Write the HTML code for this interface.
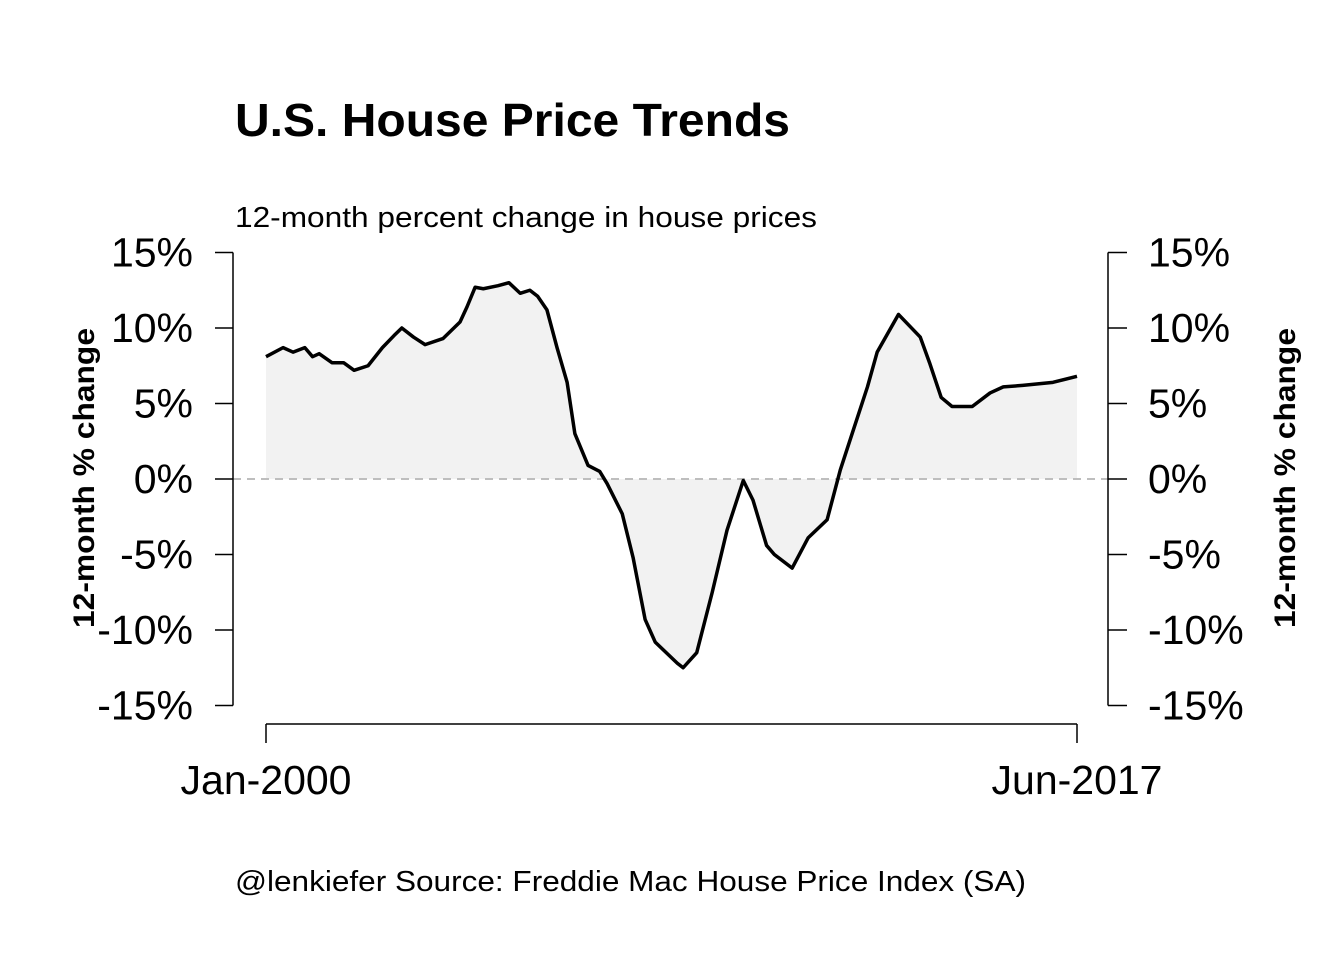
<!DOCTYPE html>
<html><head><meta charset="utf-8"><style>
body{margin:0;background:#fff;}
svg{display:block;font-family:"Liberation Sans",Arial,sans-serif;}
</style></head><body>
<svg id="chart" width="1344" height="960">
<text x="235" y="136" font-size="46" font-weight="bold" textLength="555" lengthAdjust="spacingAndGlyphs">U.S. House Price Trends</text>
<text x="235" y="227" font-size="29" textLength="582" lengthAdjust="spacingAndGlyphs">12-month percent change in house prices</text>
<text x="235" y="891" font-size="29" textLength="791" lengthAdjust="spacingAndGlyphs">@lenkiefer Source: Freddie Mac House Price Index (SA)</text>
<text transform="translate(94,478) rotate(-90)" text-anchor="middle" font-size="30" font-weight="bold" textLength="300" lengthAdjust="spacingAndGlyphs">12-month % change</text>
<text transform="translate(1295,478) rotate(-90)" text-anchor="middle" font-size="30" font-weight="bold" textLength="300" lengthAdjust="spacingAndGlyphs">12-month % change</text>
<g id="plot"></g>
</svg>
<script>
const months = [0,4.4,7,10,12,13.7,17,20,22.7,26.3,30,33,35,38,41,45.6,50,51.8,53.9,56,59.8,62.6,65.5,68,70,72.4,75,77.6,79.6,83,86,87.9,91.8,94.6,97.7,100.3,106,107.5,111,115,118.8,123,125.5,129,131,135.6,139.7,144.6,148,151.3,155,157.5,160.8,163,168.6,171,174,176.8,182,186.6,190,195,202.8,209];
const values = [8.1,8.7,8.4,8.7,8.1,8.3,7.7,7.7,7.2,7.5,8.7,9.5,10.0,9.4,8.9,9.3,10.4,11.4,12.7,12.6,12.8,13.0,12.3,12.5,12.1,11.2,8.7,6.4,3.0,0.9,0.5,-0.3,-2.3,-5.2,-9.3,-10.8,-12.2,-12.5,-11.5,-7.5,-3.4,-0.1,-1.4,-4.4,-5.0,-5.9,-3.9,-2.7,0.6,3.2,6.1,8.4,9.9,10.9,9.4,7.7,5.4,4.8,4.8,5.7,6.1,6.2,6.4,6.8];
const yTicks = [15,10,5,0,-5,-10,-15];
const xTickMonths = [0,209];
const xTickLabels = ["Jan-2000","Jun-2017"];

const NS="http://www.w3.org/2000/svg";
const g=document.getElementById('plot');
const xS=m=>266+m*(1077-266)/209;
const yS=v=>479-v*(706-253)/30;
function mk(t,a){const e=document.createElementNS(NS,t);for(const k in a)e.setAttribute(k,a[k]);g.appendChild(e);return e;}

let pts=months.map((m,i)=>xS(m)+','+yS(values[i]));
let area=mk('polygon',{points:xS(months[0])+','+yS(0)+' '+pts.join(' ')+' '+xS(months[months.length-1])+','+yS(0),fill:'#f2f2f2'});


let zl=mk('line',{x1:233,x2:1108,y1:yS(0),y2:yS(0),stroke:'#bebebe','stroke-width':2,'stroke-dasharray':'8,6'});


let ln=mk('polyline',{points:pts.join(' '),fill:'none',stroke:'#000','stroke-width':3.5,'stroke-linejoin':'round'});



let la=mk('line',{x1:233,x2:233,y1:yS(15),y2:yS(-15),stroke:'#000','stroke-width':1.5});


let ra=mk('line',{x1:1108,x2:1108,y1:yS(15),y2:yS(-15),stroke:'#000','stroke-width':1.5});


yTicks.forEach(v=>{
  const y=yS(v);
  mk('line',{x1:215,x2:233,y1:y,y2:y,stroke:'#000','stroke-width':1.5});
  mk('line',{x1:1108,x2:1127,y1:y,y2:y,stroke:'#000','stroke-width':1.5});
  let t=mk('text',{x:193,y:y+14,'text-anchor':'end','font-size':41});t.textContent=v+'%';
  
  
  let t2=mk('text',{x:1148,y:y+14,'font-size':41});t2.textContent=v+'%';
  
  
});
let xa=mk('line',{x1:xS(0),x2:xS(209),y1:724,y2:724,stroke:'#000','stroke-width':1.5});


xTickMonths.forEach((m,i)=>{
  mk('line',{x1:xS(m),x2:xS(m),y1:724,y2:743,stroke:'#000','stroke-width':1.5});
  let t=mk('text',{x:xS(m),y:794,'text-anchor':'middle','font-size':41});t.textContent=xTickLabels[i];
  
  
});
</script>
</body></html>
